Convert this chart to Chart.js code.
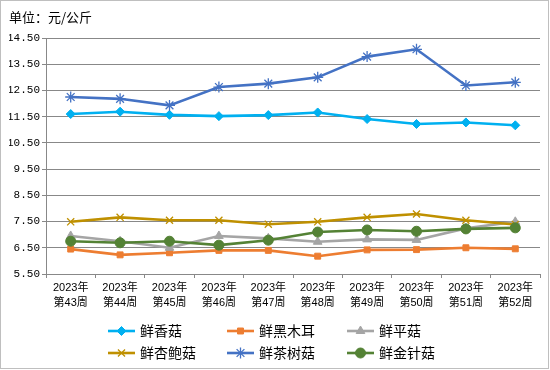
<!DOCTYPE html>
<html>
<head>
<meta charset="utf-8">
<script src="https://cdn.jsdelivr.net/npm/chart.js"></script>
<style>
  html, body { margin: 0; padding: 0; background: #fff; }
  #wrap { width: 550px; height: 370px; position: relative; }
  canvas { display: block; }
</style>
</head>
<body>
<div id="wrap"><canvas id="c" width="550" height="370"></canvas></div>
<script>
// ---- data ----
const years = ["2023年","2023年","2023年","2023年","2023年","2023年","2023年","2023年","2023年","2023年"];
const weeks = ["第43周","第44周","第45周","第46周","第47周","第48周","第49周","第50周","第51周","第52周"];
const seriesNames = ["鲜香菇","鲜黑木耳","鲜平菇","鲜杏鲍菇","鲜茶树菇","鲜金针菇"];
const xiangGu    = [11.60, 11.69, 11.57, 11.52, 11.56, 11.66, 11.41, 11.22, 11.28, 11.17];
const heiMuEr    = [6.45, 6.23, 6.31, 6.40, 6.40, 6.18, 6.42, 6.43, 6.50, 6.46];
const pingGu     = [6.95, 6.75, 6.50, 6.95, 6.86, 6.73, 6.82, 6.80, 7.24, 7.49];
const xingBaoGu  = [7.49, 7.66, 7.55, 7.55, 7.40, 7.49, 7.66, 7.79, 7.55, 7.39];
const chaShuGu   = [12.25, 12.18, 11.93, 12.63, 12.76, 13.00, 13.79, 14.07, 12.69, 12.81];
const jinZhenGu  = [6.75, 6.69, 6.75, 6.60, 6.79, 7.10, 7.18, 7.13, 7.22, 7.26];
const yTickValues = [5.5, 6.5, 7.5, 8.5, 9.5, 10.5, 11.5, 12.5, 13.5, 14.5];
const unitTitle = "单位：元/公斤";

// ---- styles ----
const colors = ["#00B0F0", "#ED7D31", "#A5A5A5", "#BF9000", "#4472C4", "#548235"];
const pointStyles = ["rectRot", "rect", "triangle", "crossRot", "star", "circle"];
const pointRadii = [4.5, 4.2, 5, 5, 5.5, 5];
const pointBorders = [1, 1, 1, 1.3, 1.3, 1];
const seriesValues = [xiangGu, heiMuEr, pingGu, xingBaoGu, chaShuGu, jinZhenGu];

const cjk = '"Noto Sans CJK SC", "Noto Sans", sans-serif';
const gridColor = '#888888';

const labels = years.map((y, i) => [y, weeks[i]]);

const datasets = seriesNames.map((name, i) => ({
  label: name,
  data: seriesValues[i],
  borderColor: colors[i],
  backgroundColor: colors[i],
  pointBackgroundColor: colors[i],
  pointBorderColor: colors[i],
  pointStyle: pointStyles[i],
  pointRadius: pointRadii[i],
  pointBorderWidth: pointBorders[i],
  borderWidth: 2.6,
  tension: 0,
  order: seriesNames.length - i
}));

const borderPlugin = {
  id: 'outerBorder',
  beforeDraw(chart) {
    const ctx = chart.ctx;
    ctx.save();
    ctx.fillStyle = '#fff';
    ctx.fillRect(0, 0, chart.width, chart.height);
    ctx.strokeStyle = '#BFBFBF';
    ctx.lineWidth = 1;
    ctx.strokeRect(0.5, 0.5, chart.width - 2, chart.height - 2);
    ctx.restore();
  }
};

const legendPlugin = {
  id: 'gridLegend',
  afterDraw(chart) {
    const ctx = chart.ctx;
    const colX = [108, 227, 347];
    const rowY = [331, 353];
    const lineLen = 27;
    ctx.save();
    chart.data.datasets.forEach((ds, i) => {
      const x = colX[i % 3];
      const y = rowY[Math.floor(i / 3)];
      ctx.strokeStyle = ds.borderColor;
      ctx.lineWidth = ds.borderWidth;
      ctx.beginPath();
      ctx.moveTo(x, y);
      ctx.lineTo(x + lineLen, y);
      ctx.stroke();
      ctx.fillStyle = ds.pointBackgroundColor;
      ctx.strokeStyle = ds.pointBorderColor;
      ctx.lineWidth = ds.pointBorderWidth;
      Chart.helpers.drawPoint(ctx, {
        pointStyle: ds.pointStyle,
        radius: ds.pointRadius,
        rotation: 0,
        borderWidth: ds.pointBorderWidth
      }, x + lineLen / 2, y);
      ctx.fillStyle = '#000';
      ctx.font = '14px ' + cjk;
      ctx.textBaseline = 'middle';
      ctx.textAlign = 'left';
      ctx.fillText(ds.label, x + 32, y);
    });
    ctx.restore();
  }
};

new Chart(document.getElementById('c'), {
  type: 'line',
  data: { labels, datasets },
  options: {
    responsive: false,
    animation: false,
    devicePixelRatio: 1,
    layout: { padding: { left: 9, right: 10, top: 0, bottom: 60 } },
    plugins: {
      legend: { display: false },
      tooltip: { enabled: false },
      title: {
        display: true,
        text: unitTitle,
        align: 'start',
        color: '#000',
        font: { family: cjk, size: 13, weight: 'normal', lineHeight: 1.2 },
        padding: { top: 9, bottom: 13.4 }
      }
    },
    scales: {
      x: {
        offset: true,
        grid: { display: true, drawOnChartArea: false, drawTicks: true, tickLength: 4, color: gridColor, offset: true },
        border: { display: true, color: gridColor, width: 1 },
        ticks: {
          color: '#000',
          padding: 3,
          maxRotation: 0,
          autoSkip: false,
          font: { family: '"Liberation Sans", ' + cjk, size: 11, lineHeight: 1.31 }
        },
        afterFit(scale) { scale.height = 36; }
      },
      y: {
        min: 5.5,
        max: 14.5,
        afterBuildTicks(scale) { scale.ticks = yTickValues.map(v => ({ value: v })); },
        grid: { color: gridColor, lineWidth: 1, drawTicks: true, tickLength: 4 },
        border: { display: true, color: gridColor, width: 1 },
        ticks: {
          color: '#000',
          padding: 2,
          font: { family: '"Liberation Mono", monospace', size: 11 },
          callback: (v) => Number(v).toFixed(2)
        },
        afterFit(scale) { scale.width = 37; }
      }
    }
  },
  plugins: [borderPlugin, legendPlugin]
});
</script>
</body>
</html>
